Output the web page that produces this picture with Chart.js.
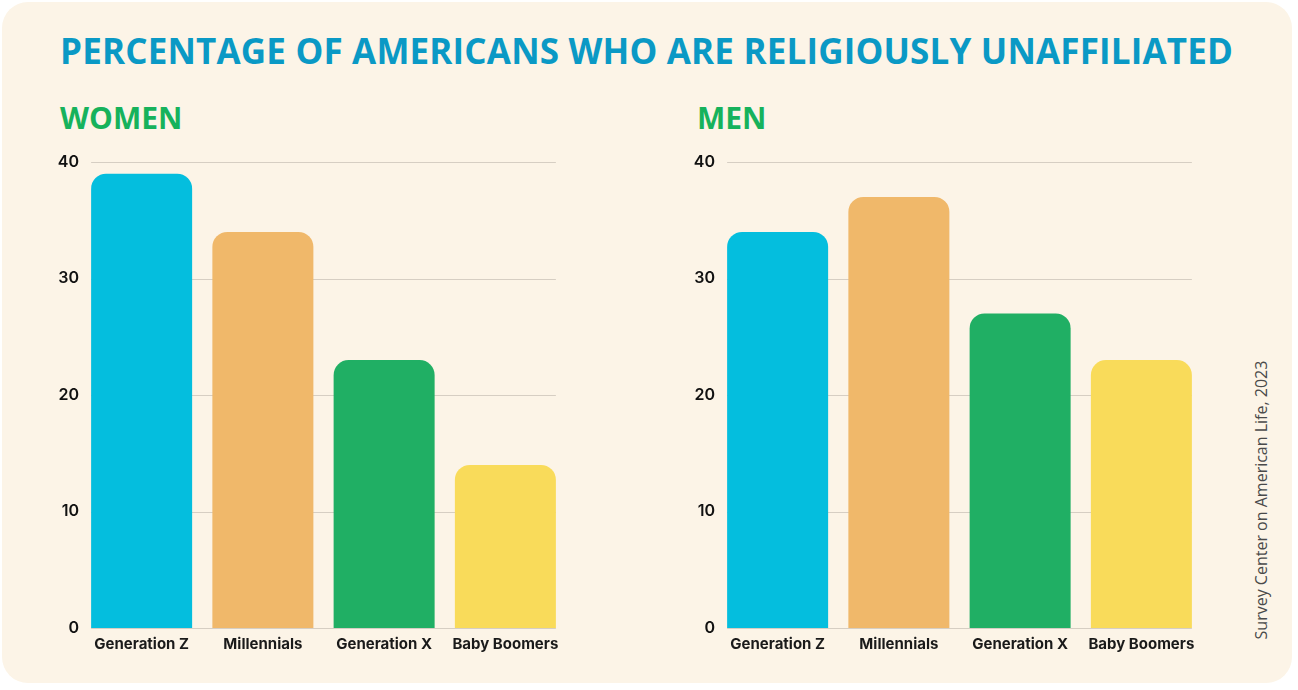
<!DOCTYPE html>
<html>
<head>
<meta charset="utf-8">
<script src="https://cdn.jsdelivr.net/npm/chart.js@4.4.0/dist/chart.umd.min.js"></script>
<style>
  html, body { margin:0; padding:0; background:#ffffff; }
  body { width:1298px; height:690px; position:relative; overflow:hidden; font-family:"Open Sans", sans-serif; }
  #card { position:absolute; left:2px; top:2px; width:1290px; height:681px; background:#FCF4E7; border-radius:26px; }
  .abs { position:absolute; white-space:nowrap; }
  #title { left:60px; top:33px; font-size:35px; line-height:35px; font-weight:700; color:#0A99C5; }
  .sub { font-size:30px; line-height:30px; font-weight:700; color:#16B25C; top:103px; }
  #src { left:1061px; top:490px; width:400px; height:20px; line-height:20px; text-align:center; font-size:16px; color:#4a4a4a; transform:rotate(-90deg); transform-origin:200px 10px; }
  canvas { position:absolute; }
</style>
</head>
<body>
<div id="card"></div>
<div id="title" class="abs">PERCENTAGE OF AMERICANS WHO ARE RELIGIOUSLY UNAFFILIATED</div>
<div class="abs sub" style="left:60px">WOMEN</div>
<div class="abs sub" style="left:697px">MEN</div>
<div id="src" class="abs">Survey Center on American Life, 2023</div>
<canvas id="cw" width="570" height="528" style="left:0px;top:140px"></canvas>
<canvas id="cm" width="570" height="528" style="left:636px;top:140px"></canvas>
<script>
const categories = ["Generation Z", "Millennials", "Generation X", "Baby Boomers"];
const womenValues = [39, 34, 23, 14];
const menValues = [34, 37, 27, 23];
const barColors = ["#04BEDE", "#F0B86A", "#20AF64", "#F9DB5A"];
const yTicks = [0, 10, 20, 30, 40];

// fit title width
(function(){
  const t = document.getElementById('title');
  const target = 1173;
  const w = t.getBoundingClientRect().width;
  const n = t.textContent.length - 1;
  t.style.letterSpacing = ((target - w) / n) + 'px';
})();

const gridPlugin = {
  id: 'barGrid',
  beforeDatasetsDraw(chart) {
    const ctx = chart.ctx;
    const meta = chart.getDatasetMeta(0);
    const first = meta.data[0], last = meta.data[meta.data.length - 1];
    const x0 = first.x - first.width / 2;
    const x1 = last.x + last.width / 2;
    const y = chart.scales.y;
    ctx.save();
    ctx.strokeStyle = '#D6CEC3';
    ctx.lineWidth = 1;
    yTicks.forEach(v => {
      const py = Math.round(y.getPixelForValue(v)) + 0.5;
      ctx.beginPath();
      ctx.moveTo(x0, py);
      ctx.lineTo(x1, py);
      ctx.stroke();
    });
    ctx.restore();
  }
};

function makeChart(id, values) {
  return new Chart(document.getElementById(id), {
    type: 'bar',
    data: {
      labels: categories,
      datasets: [{
        data: values,
        backgroundColor: barColors,
        borderRadius: 15,
        borderSkipped: 'start',
        barPercentage: 0.833,
        categoryPercentage: 1.0
      }]
    },
    options: {
      responsive: false,
      devicePixelRatio: 1,
      animation: false,
      layout: { padding: { top: 22, right: 4, left: 0, bottom: 0 } },
      plugins: { legend: { display: false }, tooltip: { enabled: false } },
      scales: {
        x: {
          grid: { display: false, drawTicks: false },
          border: { display: false },
          ticks: { color: '#1a1a1a', font: { family: 'Inter', size: 15, weight: '700' }, padding: 7, maxRotation: 0 },
          afterFit(s) { s.height = 40; }
        },
        y: {
          min: 0, max: 40,
          afterBuildTicks(s) { s.ticks = yTicks.map(v => ({ value: v })); },
          grid: { display: false, drawTicks: false },
          border: { display: false },
          ticks: { color: '#111111', font: { family: 'Inter', size: 16, weight: '600' }, padding: 2 },
          afterFit(s) { s.width = 81; }
        }
      }
    },
    plugins: [gridPlugin]
  });
}
makeChart('cw', womenValues);
makeChart('cm', menValues);
</script>
</body>
</html>
